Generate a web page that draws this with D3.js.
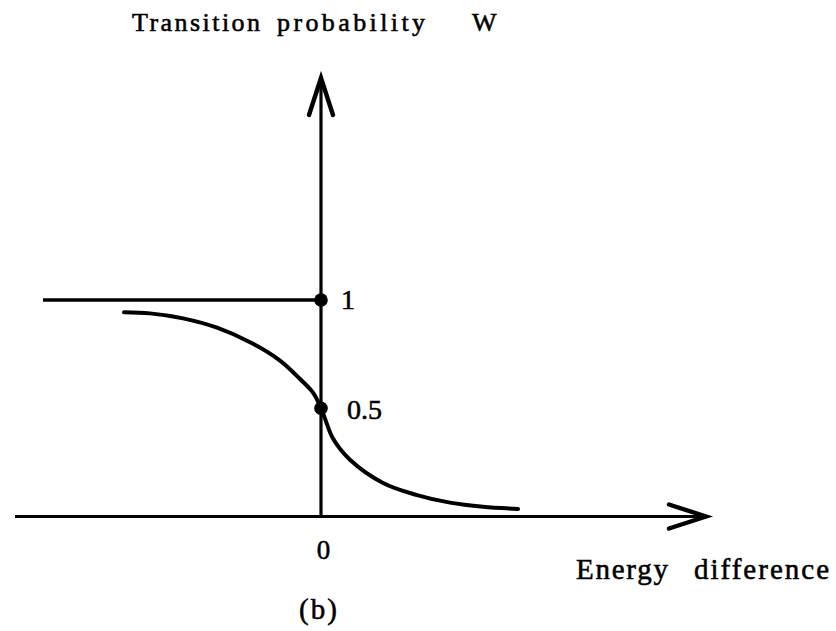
<!DOCTYPE html>
<html>
<head>
<meta charset="utf-8">
<script src="https://cdn.jsdelivr.net/npm/d3@7"></script>
<style>
  html, body { margin: 0; padding: 0; background: #fff; }
  svg { display: block; }
  text { font-family: "Liberation Serif", "DejaVu Serif", serif; fill: #000; stroke: #000; stroke-width: 0.55px; }
</style>
</head>
<body>
<svg id="chart" width="836" height="631"></svg>
<script>
// Transition probability W versus energy difference (arbitrary units).
const energy = [-1.97, -1.71, -1.38, -1.04, -0.71, -0.41, -0.21, -0.08, 0, 0.04, 0.12, 0.29, 0.62, 0.96, 1.29, 1.62, 1.97];
const probability = [0.943, 0.938, 0.915, 0.872, 0.805, 0.720, 0.635, 0.572, 0.5, 0.452, 0.360, 0.262, 0.155, 0.099, 0.064, 0.045, 0.035];

// Step rule: W = 1 for all energy differences below zero.
const stepEnergy = [-2.78, 0];
const stepValue = [1, 1];

// Marked levels on the W axis.
const markedLevels = [1, 0.5];
const markedLabels = ["1", "0.5"];
const xTickValues = [0];
const xTickLabels = ["0"];

const xDomain = [-3.06, 3.85];
const yDomain = [0, 2.025];

const svg = d3.select("#chart");
const x = d3.scaleLinear().domain(xDomain).range([15, 706]);
const y = d3.scaleLinear().domain(yDomain).range([516.5, 78]);

const ink = "#000";

// Axes
svg.append("line")
  .attr("x1", x(xDomain[0])).attr("x2", x(xDomain[1]))
  .attr("y1", y(0)).attr("y2", y(0))
  .attr("stroke", ink).attr("stroke-width", 3.2);
svg.append("line")
  .attr("x1", x(0)).attr("x2", x(0))
  .attr("y1", y(0)).attr("y2", y(yDomain[1]))
  .attr("stroke", ink).attr("stroke-width", 3.2);

// Open arrowheads at the axis ends
const xTip = [x(xDomain[1]), y(0)];
svg.append("path")
  .attr("d", `M${xTip[0] - 37},${xTip[1] - 12} L${xTip[0]},${xTip[1]} L${xTip[0] - 37},${xTip[1] + 12}`)
  .attr("fill", "none").attr("stroke", ink).attr("stroke-width", 4.4)
  .attr("stroke-linejoin", "miter").attr("stroke-linecap", "round");
const yTip = [x(0), y(yDomain[1])];
svg.append("path")
  .attr("d", `M${yTip[0] - 12},${yTip[1] + 37} L${yTip[0]},${yTip[1]} L${yTip[0] + 12},${yTip[1] + 37}`)
  .attr("fill", "none").attr("stroke", ink).attr("stroke-width", 4.4)
  .attr("stroke-linejoin", "miter").attr("stroke-linecap", "round");

// Step line at W = 1
const line = d3.line().x(d => x(d[0])).y(d => y(d[1]));
svg.append("path")
  .attr("d", line(stepEnergy.map((e, i) => [e, stepValue[i]])))
  .attr("fill", "none").attr("stroke", ink).attr("stroke-width", 3.4);

// Smooth transition curve
const curve = d3.line().x(d => x(d[0])).y(d => y(d[1])).curve(d3.curveCatmullRom.alpha(0.5));
svg.append("path")
  .attr("d", curve(energy.map((e, i) => [e, probability[i]])))
  .attr("fill", "none").attr("stroke", ink).attr("stroke-width", 4)
  .attr("stroke-linecap", "round");

// Dots and labels on the W axis
svg.selectAll("circle.level").data(markedLevels).join("circle")
  .attr("class", "level")
  .attr("cx", x(0)).attr("cy", d => y(d)).attr("r", 6.8)
  .attr("fill", ink);
svg.selectAll("text.level").data(markedLevels).join("text")
  .attr("class", "level")
  .attr("x", (d, i) => x(0) + (i === 0 ? 20 : 26))
  .attr("y", (d, i) => y(d) + (i === 0 ? 9 : 11))
  .attr("font-size", 28)
  .text((d, i) => markedLabels[i]);

// Tick label under the origin
svg.selectAll("text.xtick").data(xTickValues).join("text")
  .attr("class", "xtick")
  .attr("x", d => x(d) + 2.5).attr("y", 559)
  .attr("text-anchor", "middle")
  .attr("font-size", 27)
  .text((d, i) => xTickLabels[i]);

// Titles
function word(str, x0, x1, yb, size) {
  svg.append("text")
    .attr("x", x0).attr("y", yb)
    .attr("font-size", size)
    .attr("textLength", x1 - x0)
    .attr("lengthAdjust", "spacing")
    .text(str);
}
word("Transition", 132, 260, 31, 26);
word("probability", 277, 425, 31, 26);
word("W", 472, 498, 31, 26);
word("Energy", 576, 668, 579, 29);
word("difference", 694, 829, 579, 29);

svg.append("text")
  .attr("x", 319).attr("y", 619)
  .attr("text-anchor", "middle")
  .attr("font-size", 29)
  .attr("letter-spacing", 2)
  .text("(b)");
</script>
</body>
</html>
